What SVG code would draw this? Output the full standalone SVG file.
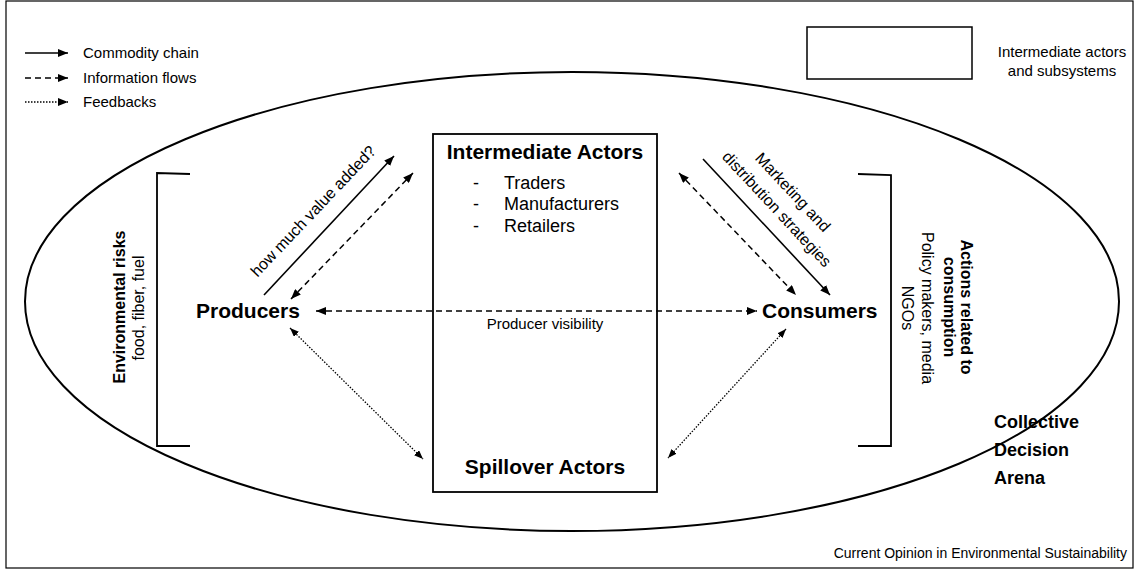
<svg xmlns="http://www.w3.org/2000/svg" width="1135" height="570" viewBox="0 0 1135 570">
<defs>
<style>
text{font-family:"Liberation Sans",Arial,sans-serif;fill:#000}
.b{font-weight:bold}
.ln{fill:none;stroke:#000}
.solid{stroke-width:1.6}
.dash{stroke-width:1.5;stroke-dasharray:6 4}
.dot{stroke-width:1.3;stroke-dasharray:1.5 1.5}
</style>
<marker id="ah" markerUnits="userSpaceOnUse" markerWidth="10" markerHeight="8" refX="10" refY="4" orient="auto-start-reverse"><path d="M0,0 L10,4 L0,8 z" fill="#000"/></marker>
<marker id="ahs" markerUnits="userSpaceOnUse" markerWidth="9" markerHeight="7" refX="9" refY="3.5" orient="auto-start-reverse"><path d="M0,0 L9,3.5 L0,7 z" fill="#000"/></marker>
</defs>
<rect x="0" y="0" width="1135" height="570" fill="#fff"/>
<rect x="6" y="1" width="1127" height="567" fill="none" stroke="#000" stroke-width="1.2"/>

<g id="legend">
<line class="ln solid" x1="25" y1="53" x2="68" y2="53" marker-end="url(#ah)"/>
<line class="ln dash" x1="25" y1="78" x2="68" y2="78" marker-end="url(#ah)"/>
<line class="ln dot" x1="25" y1="102" x2="68" y2="102" marker-end="url(#ah)"/>
<text x="83" y="58" font-size="15">Commodity chain</text>
<text x="83" y="83" font-size="15">Information flows</text>
<text x="83" y="107" font-size="15">Feedbacks</text>
<rect x="807" y="27" width="165" height="52" fill="none" stroke="#000" stroke-width="1.5"/>
<text x="1062" y="57" font-size="15" text-anchor="middle">Intermediate actors</text>
<text x="1062" y="76" font-size="15" text-anchor="middle">and subsystems</text>
</g>

<g id="arena">
<ellipse cx="572" cy="301.5" rx="547" ry="229.5" fill="none" stroke="#000" stroke-width="2"/>
<text class="b" x="994" y="428" font-size="18">Collective</text>
<text class="b" x="994" y="456" font-size="18">Decision</text>
<text class="b" x="994" y="484" font-size="18">Arena</text>
</g>

<g id="environmental-risks">
<path class="ln" stroke-width="1.8" d="M190,174 L157,173 L157,446 L190,446"/>
<text class="b" font-size="16" text-anchor="middle" transform="translate(125,307) rotate(-90)">Environmental risks</text>
<text font-size="16" text-anchor="middle" transform="translate(144,308) rotate(-90)">food, fiber, fuel</text>
</g>

<g id="consumption-actions">
<path class="ln" stroke-width="1.8" d="M858,174 L891,175 L891,446 L858,446"/>
<text class="b" font-size="16" text-anchor="middle" transform="translate(961,307) rotate(90)">Actions related to</text>
<text class="b" font-size="16" text-anchor="middle" transform="translate(944,307) rotate(90)">consumption</text>
<text font-size="16" text-anchor="middle" transform="translate(922,308) rotate(90)">Policy makers, media</text>
<text font-size="16" text-anchor="middle" transform="translate(902,308) rotate(90)">NGOs</text>
</g>

<g id="intermediate-box">
<rect x="433" y="134" width="224" height="358" fill="none" stroke="#000" stroke-width="1.8"/>
<text class="b" x="545" y="159" font-size="21" text-anchor="middle">Intermediate Actors</text>
<text x="473" y="189" font-size="18">-</text>
<text x="504" y="189" font-size="18">Traders</text>
<text x="473" y="210" font-size="18">-</text>
<text x="504" y="210" font-size="18">Manufacturers</text>
<text x="473" y="232" font-size="18">-</text>
<text x="504" y="232" font-size="18">Retailers</text>
<text class="b" x="545" y="474" font-size="21" text-anchor="middle">Spillover Actors</text>
</g>

<g id="producers">
<text class="b" x="196" y="318" font-size="21">Producers</text>
</g>
<g id="consumers">
<text class="b" x="762" y="318" font-size="21">Consumers</text>
</g>

<g id="connectors">
<line class="ln solid" x1="264" y1="295" x2="394" y2="156" marker-end="url(#ah)"/>
<line class="ln dash" x1="291" y1="299" x2="413" y2="173" marker-start="url(#ah)" marker-end="url(#ah)"/>
<line class="ln solid" x1="703" y1="159" x2="830" y2="295" marker-end="url(#ah)"/>
<line class="ln dash" x1="679" y1="173" x2="796" y2="295" marker-start="url(#ah)" marker-end="url(#ah)"/>
<line class="ln dash" x1="316" y1="311" x2="757" y2="311" marker-start="url(#ah)" marker-end="url(#ah)"/>
<line class="ln dot" x1="290" y1="328" x2="423" y2="459" marker-start="url(#ahs)" marker-end="url(#ahs)"/>
<line class="ln dot" x1="786" y1="329" x2="668" y2="458" marker-start="url(#ahs)" marker-end="url(#ahs)"/>
<text font-size="16" text-anchor="middle" transform="translate(313,211) rotate(-46.5)" dy="0.35em">how much value added?</text>
<text font-size="16" text-anchor="middle" transform="translate(793,192) rotate(47)" dy="0.35em">Marketing and</text>
<text font-size="16" text-anchor="middle" transform="translate(777,209) rotate(47)" dy="0.35em">distribution strategies</text>
<text x="545" y="329" font-size="15" text-anchor="middle">Producer visibility</text>
</g>

<text x="1127" y="558" font-size="14" text-anchor="end">Current Opinion in Environmental Sustainability</text>
</svg>
